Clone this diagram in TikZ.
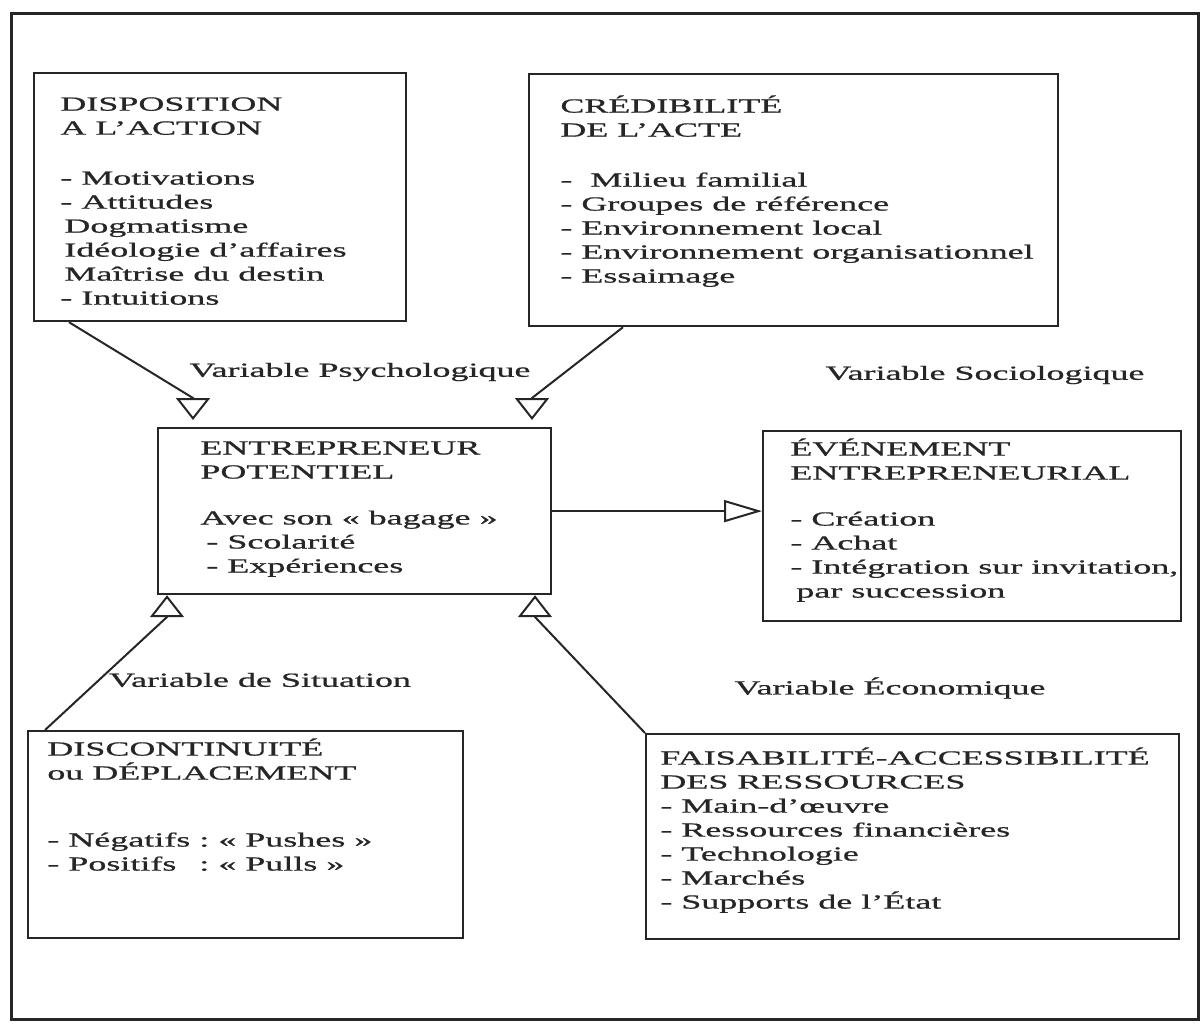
\documentclass[tikz,border=0pt]{standalone}
\usepackage{fontspec}
\setmainfont{Liberation Serif}[FakeStretch=1.8, FakeBold=0.8]
\usetikzlibrary{arrows.meta,positioning}
\definecolor{scanink}{HTML}{262626}

\begin{document}
\begin{tikzpicture}[
    x=0.5pt, y=-0.5pt,
    font=\fontsize{10}{12}\selectfont,
    frame/.style={draw=scanink, line width=1.6pt, anchor=north west, inner sep=0pt},
    panel/.style={draw=scanink, line width=1.1pt, anchor=north west, inner sep=0pt},
    paneltext/.style={anchor=north west, inner sep=0pt, align=left, text=scanink},
    varlabel/.style={text=scanink, inner sep=1pt},
    uparrow/.style={draw=scanink, line width=1pt, -{Triangle[open, length=11pt, width=17pt]}},
    sidearrow/.style={draw=scanink, line width=1pt, -{Triangle[open, length=19pt, width=11pt]}}
]
\useasboundingbox (0,0) rectangle (1204,1024);
\node[frame, minimum width=593.5pt, minimum height=503pt] (frame) at (10,12) {};

\node[panel, minimum width=186pt, minimum height=124pt] (disp) at (33,72) {};
\node[panel, minimum width=264.5pt, minimum height=126pt] (cred) at (528,73) {};
\node[panel, minimum width=196.5pt, minimum height=83pt] (entr) at (157,427) {};
\node[panel, minimum width=209pt, minimum height=95pt] (event) at (762,430) {};
\node[panel, minimum width=217.5pt, minimum height=103.5pt] (disc) at (27,730) {};
\node[panel, minimum width=266.5pt, minimum height=102.5pt] (feas) at (645,733) {};

\node[paneltext] (dispTxt) at ([shift={(27,25)}]disp.north west) {DISPOSITION\\A L'ACTION\\[13pt]- Motivations\\- Attitudes\\\hspace*{2pt}Dogmatisme\\\hspace*{2pt}Idéologie d'affaires\\\hspace*{2pt}Maîtrise du destin\\- Intuitions};
\node[paneltext] (credTxt) at ([shift={(32,22)}]cred.north west) {CRÉDIBILITÉ\\DE L'ACTE\\[13pt]-~~Milieu familial\\- Groupes de référence\\- Environnement local\\- Environnement organisationnel\\- Essaimage};
\node[paneltext] (entrTxt) at ([shift={(43,14)}]entr.north west) {ENTREPRENEUR\\POTENTIEL\\[11pt]Avec son «~bagage~»\\\hspace*{3pt}- Scolarité\\\hspace*{3pt}- Expériences};
\node[paneltext] (eventTxt) at ([shift={(28,8)}]event.north west) {ÉVÉNEMENT\\ENTREPRENEURIAL\\[11pt]- Création\\- Achat\\- Intégration sur invitation,\\\hspace*{3pt}par succession};
\node[paneltext] (discTxt) at ([shift={(20,8)}]disc.north west) {DISCONTINUITÉ\\ou DÉPLACEMENT\\[24pt]\begin{tabular}{@{}l@{\ :\ }l@{}}- Négatifs & «~Pushes~»\\- Positifs & «~Pulls~»\end{tabular}};
\node[paneltext] (feasTxt) at ([shift={(15,14)}]feas.north west) {FAISABILITÉ-ACCESSIBILITÉ\\DES RESSOURCES\\- Main-d'œuvre\\- Ressources financières\\- Technologie\\- Marchés\\- Supports de l'État};

\node[varlabel] (psyLabel) at (360,372) {Variable Psychologique};
\node[varlabel] (socLabel) at (985,375) {Variable Sociologique};
\node[varlabel] (sitLabel) at (260,680) {Variable de Situation};
\node[varlabel] (ecoLabel) at (890,688) {Variable Économique};

\coordinate (psyTip) at (193,398);
\coordinate (socTip) at (532,398);
\coordinate (sitTip) at (167,617);
\coordinate (ecoTip) at (535,617);

\draw[uparrow, shorten >=3.5pt] ([xshift=18pt]disp.south west) -- (psyTip) -- (psyTip |- entr.north);
\draw[uparrow, shorten >=3.5pt] ([xshift=47.5pt]cred.south west) -- (socTip) -- (socTip |- entr.north);
\draw[uparrow] ([xshift=9pt]disc.north west) -- (sitTip) -- (sitTip |- entr.south);
\draw[uparrow] (feas.north west) -- (ecoTip) -- (ecoTip |- entr.south);
\draw[sidearrow] (entr.east) -- (entr.east -| event.west);
\end{tikzpicture}
\end{document}
